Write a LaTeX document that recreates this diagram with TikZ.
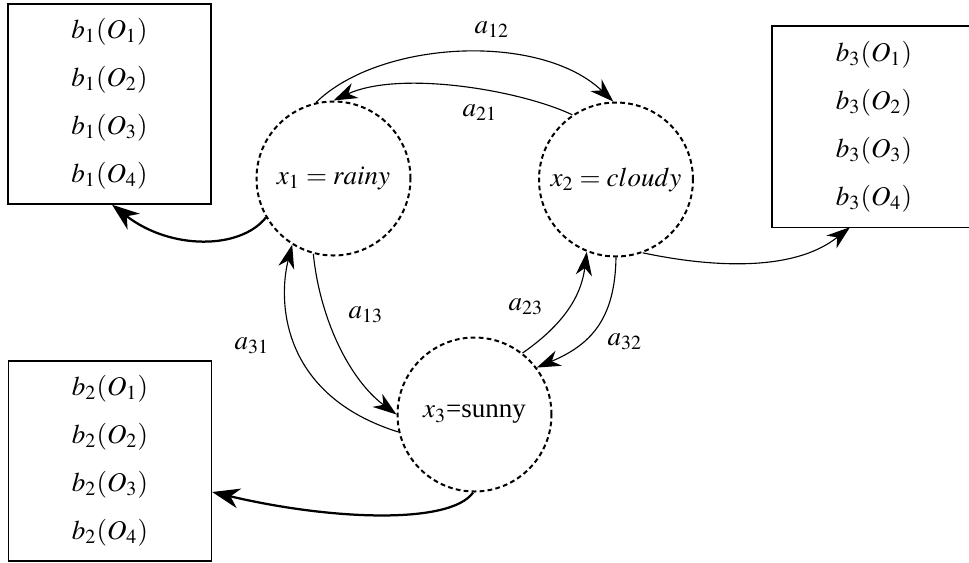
\documentclass[tikz,border=0pt]{standalone}
\usepackage{mathptmx}
\usepackage{fontspec}
\setmainfont{Liberation Serif}
\usetikzlibrary{arrows.meta}

\begin{document}
\begin{tikzpicture}[x=0.4pt,y=-0.4pt,
  every node/.style={font=\fontsize{10.8}{13}\selectfont},
  state/.style={circle,draw,line width=0.8pt,dash pattern=on 1.9pt off 1.3pt,
    minimum size=61.6pt,inner sep=0pt},
  emit/.style={line width=0.55pt,minimum width=81.2pt,minimum height=80pt,
    align=center,inner sep=0pt,font=\fontsize{10.8}{19.2}\selectfont},
  trarrow/.style={line width=0.45pt,-{Stealth[length=9.5pt,width=6.5pt,inset=3pt]}},
  obsarrow/.style={line width=0.9pt,-{Stealth[length=11pt,width=8pt,inset=3.5pt]}},
]
\useasboundingbox (0,0) rectangle (969,562);
\clip (0,0) rectangle (969,562);
\coordinate (rim) at (969,0);

% hidden states
\node[state] (x1) at (333.5,178.5) {$x_1 = rainy$};
\node[state] (x2) at (616,179.5) {$x_2 = cloudy$};
\node[state] (x3) at (474.5,414.5) {$x_3$=sunny};

% emission probabilities
\node[emit,draw] (box1) at (109.5,104)
  {$b_1(O_1)$\\$b_1(O_2)$\\$b_1(O_3)$\\$b_1(O_4)$};
\node[emit,draw] (box2) at (110,461)
  {$b_2(O_1)$\\$b_2(O_2)$\\$b_2(O_3)$\\$b_2(O_4)$};
\node[emit] (box3) at (874,126.5)
  {$b_3(O_1)$\\$b_3(O_2)$\\$b_3(O_3)$\\$b_3(O_4)$};
% the third box runs on past the right margin
\draw[line width=0.55pt] (box3.north west -| rim) -- (box3.north west)
  -- (box3.south west) -- (box3.south west -| rim);

% transitions between states
\draw[trarrow] (x1.103) .. controls (380,40) and (540,32) .. (x2.92);
\draw[trarrow] (x2.124) .. controls (520,90) and (400,70) .. (x1.90);
\draw[trarrow] (x1.255) .. controls (320,320) and (350,380) .. (x3.180);
\draw[trarrow] (x3.193) .. controls (280,395) and (278,300) .. (x1.238);
\draw[trarrow] (x3.52) .. controls (570,320) and (582,290) .. (x2.248);
\draw[trarrow] (x2.270) .. controls (615,320) and (590,345) .. (x3.37);

% emissions
\draw[obsarrow] (x1.210) .. controls (240,250) and (170,250) .. ([xshift=1pt]box1.south);
\draw[trarrow] (x2.290) .. controls (700,265) and (790,275) .. ([xshift=-9.6pt]box3.south);
\draw[obsarrow] (x3.269) .. controls (450,525) and (330,520) .. ([yshift=-12.4pt]box2.east);

% transition labels
\node (l12) at (492,30) {$a_{12}$};
\node (l21) at (480,113) {$a_{21}$};
\node (l13) at (366,315) {$a_{13}$};
\node (l31) at (252,346) {$a_{31}$};
\node (l23) at (526,307) {$a_{23}$};
\node (l32) at (625,342) {$a_{32}$};
\end{tikzpicture}
\end{document}
